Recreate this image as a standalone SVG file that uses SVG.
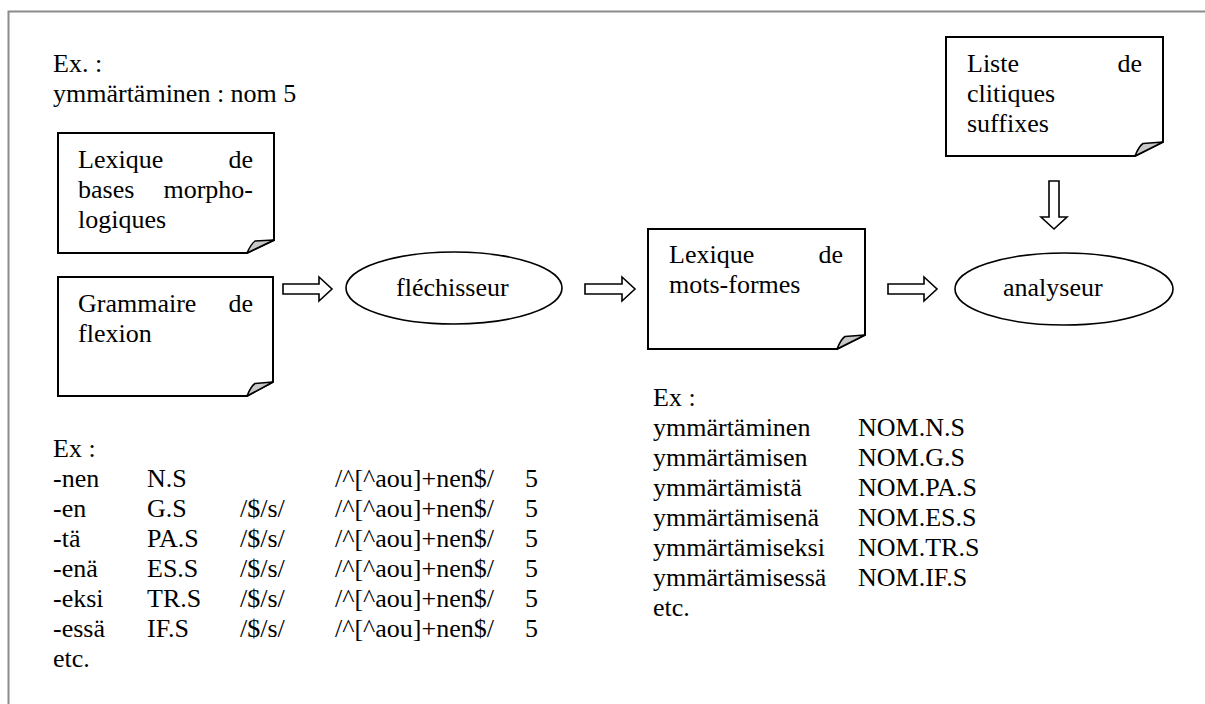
<svg xmlns="http://www.w3.org/2000/svg" width="1205" height="704" viewBox="0 0 1205 704">
<style>
text{font-family:"Liberation Serif","Times New Roman",serif;font-size:26px;fill:#000}
.doc{fill:#fff;stroke:#000;stroke-width:2}
.fold{fill:#c8c8c8;stroke:#000;stroke-width:1.5;stroke-linejoin:round}
.ell{fill:#fff;stroke:#000;stroke-width:1.6}
.arr{fill:#fff;stroke:#000;stroke-width:1.6;stroke-linejoin:miter}
.end{text-anchor:end}
</style>
<rect width="1205" height="704" fill="#fff"/>
<path d="M8.5,704 V11.5 H1205" fill="none" stroke="#8c8c8c" stroke-width="2"/>

<g id="example-top">
<text x="53" y="72">Ex. :</text>
<text x="53" y="102">ymmärtäminen : nom 5</text>
</g>

<g id="lexique-bases">
<path class="doc" d="M58,133 H274 V240 L247,253 H58 Z"/>
<path class="fold" d="M274,240 L255,241 Q251,244 247,253 Z"/>
<text x="78" y="168">Lexique</text><text class="end" x="253" y="168">de</text>
<text x="78" y="198">bases</text><text class="end" x="253" y="198">morpho-</text>
<text x="78" y="228">logiques</text>
</g>

<g id="grammaire-flexion">
<path class="doc" d="M58,277 H273 V382 L247,396 H58 Z"/>
<path class="fold" d="M273,382 L255,383.5 Q251,386 247,396 Z"/>
<text x="78" y="312">Grammaire</text><text class="end" x="253" y="312">de</text>
<text x="78" y="342">flexion</text>
</g>

<g id="flechisseur">
<ellipse class="ell" cx="454" cy="288" rx="108" ry="36"/>
<text x="396" y="296">fléchisseur</text>
</g>

<g id="lexique-mots-formes">
<path class="doc" d="M648,229 H865 V335 L837,349 H648 Z"/>
<path class="fold" d="M865,335 L845,336.5 Q841,339 837,349 Z"/>
<text x="669" y="263">Lexique</text><text class="end" x="843" y="263">de</text>
<text x="669" y="293">mots-formes</text>
</g>

<g id="liste-clitiques">
<path class="doc" d="M946,37 H1163 V142 L1135,156 H946 Z"/>
<path class="fold" d="M1163,142 L1143,143.5 Q1139,146 1135,156 Z"/>
<text x="967" y="72">Liste</text><text class="end" x="1142" y="72">de</text>
<text x="967" y="102">clitiques</text>
<text x="967" y="132">suffixes</text>
</g>

<g id="analyseur">
<ellipse class="ell" cx="1064" cy="289" rx="109" ry="36"/>
<text x="1003" y="296">analyseur</text>
</g>

<g id="connectors">
<polygon class="arr" points="283,284 319,284 319,277 332,289 319,301 319,294 283,294"/>
<polygon class="arr" points="585,284 622,284 622,277 635,289 622,301 622,294 585,294"/>
<polygon class="arr" points="888,284 924,284 924,277 937,289 924,301 924,294 888,294"/>
<polygon class="arr" points="1049,181 1059,181 1059,217 1067,217 1054,229 1041,217 1049,217"/>
</g>

<g id="example-grammar">
<text x="53" y="457">Ex :</text>
<text y="487"><tspan x="53">-nen</tspan><tspan x="147">N.S</tspan><tspan x="335">/^[^aou]+nen$/</tspan><tspan x="525">5</tspan></text>
<text y="517"><tspan x="53">-en</tspan><tspan x="147">G.S</tspan><tspan x="240">/$/s/</tspan><tspan x="335">/^[^aou]+nen$/</tspan><tspan x="525">5</tspan></text>
<text y="547"><tspan x="53">-tä</tspan><tspan x="147">PA.S</tspan><tspan x="240">/$/s/</tspan><tspan x="335">/^[^aou]+nen$/</tspan><tspan x="525">5</tspan></text>
<text y="577"><tspan x="53">-enä</tspan><tspan x="147">ES.S</tspan><tspan x="240">/$/s/</tspan><tspan x="335">/^[^aou]+nen$/</tspan><tspan x="525">5</tspan></text>
<text y="607"><tspan x="53">-eksi</tspan><tspan x="147">TR.S</tspan><tspan x="240">/$/s/</tspan><tspan x="335">/^[^aou]+nen$/</tspan><tspan x="525">5</tspan></text>
<text y="637"><tspan x="53">-essä</tspan><tspan x="147">IF.S</tspan><tspan x="240">/$/s/</tspan><tspan x="335">/^[^aou]+nen$/</tspan><tspan x="525">5</tspan></text>
<text x="53" y="667">etc.</text>
</g>

<g id="example-wordforms">
<text x="653" y="406">Ex :</text>
<text y="436"><tspan x="653">ymmärtäminen</tspan><tspan x="858">NOM.N.S</tspan></text>
<text y="466"><tspan x="653">ymmärtämisen</tspan><tspan x="858">NOM.G.S</tspan></text>
<text y="496"><tspan x="653">ymmärtämistä</tspan><tspan x="858">NOM.PA.S</tspan></text>
<text y="526"><tspan x="653">ymmärtämisenä</tspan><tspan x="858">NOM.ES.S</tspan></text>
<text y="556"><tspan x="653">ymmärtämiseksi</tspan><tspan x="858">NOM.TR.S</tspan></text>
<text y="586"><tspan x="653">ymmärtämisessä</tspan><tspan x="858">NOM.IF.S</tspan></text>
<text x="653" y="616">etc.</text>
</g>
</svg>
